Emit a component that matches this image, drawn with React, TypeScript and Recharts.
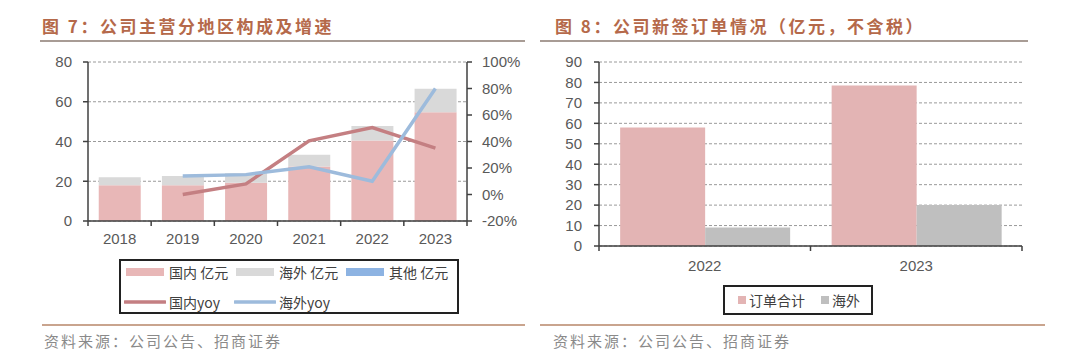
import React from 'react';
import { ComposedChart, BarChart, Bar, Line, XAxis, YAxis, CartesianGrid, Legend } from 'recharts';

// 图7 data
const years = ['2018', '2019', '2020', '2021', '2022', '2023'];
const domestic = [18, 18, 19.3, 27.4, 40.5, 54.7];
const overseas = [4, 4.7, 4.7, 5.9, 7.3, 11.9];
const others = [0, 0, 0, 0, 0, 0];
const domesticYoy = [null, 0, 8, 40.5, 50.5, 35];
const overseasYoy = [null, 14, 15, 21, 10, 80];
const leftTicks = [0, 20, 40, 60, 80];
const rightTicks = [-20, 0, 20, 40, 60, 80, 100];
const regionNames = ['国内 亿元', '海外 亿元', '其他 亿元', '国内yoy', '海外yoy'];

// 图8 data
const orderYears = ['2022', '2023'];
const orderTotal = [58, 78.5];
const orderOverseas = [9, 20];
const orderTicks = [0, 10, 20, 30, 40, 50, 60, 70, 80, 90];
const orderNames = ['订单合计', '海外'];

const CJK = '"Noto Sans CJK SC", "Liberation Sans", sans-serif';
const AXIS_FONT = '"Liberation Sans", Arial, sans-serif';
const tickStyle = { fill: '#595959', fontSize: 15, fontFamily: AXIS_FONT };
const axisStroke = { stroke: '#404040', strokeWidth: 1.5 };

const regionData = years.map((y, i) => ({
  year: y,
  domestic: domestic[i],
  overseas: overseas[i],
  others: others[i],
  domesticYoy: domesticYoy[i],
  overseasYoy: overseasYoy[i],
}));

const orderData = orderYears.map((y, i) => ({
  year: y,
  total: orderTotal[i],
  overseas: orderOverseas[i],
}));

// category label + tick marks on the band edges (Excel style)
const EdgeTick = (props: any) => {
  const { x, y, payload, index, visibleTicksCount, gap } = props;
  const off = payload?.offset ?? 0;
  const last = index === visibleTicksCount - 1;
  return (
    <g>
      <line x1={x - off} x2={x - off} y1={y} y2={y + 5} stroke="#404040" strokeWidth={1.5} />
      {last && <line x1={x + off} x2={x + off} y1={y} y2={y + 5} stroke="#404040" strokeWidth={1.5} />}
      <text x={x} y={y + gap} dy="0.71em" textAnchor="middle" {...tickStyle}>
        {payload.value}
      </text>
    </g>
  );
};

const legendText = { fontFamily: CJK, fontSize: 14, color: '#404040', whiteSpace: 'nowrap' as const };

// keep legend items in the series order, not alphabetical
const inOrder = (payload: any[] = [], names: string[]) =>
  [...payload].sort((a, b) => names.indexOf(a.value) - names.indexOf(b.value));

const RegionLegend = ({ payload }: any) => (
  <div
    style={{
      boxSizing: 'border-box',
      width: 340,
      height: 55,
      border: '2px solid #222',
      background: '#fff',
      display: 'flex',
      flexWrap: 'wrap',
      alignContent: 'center',
      paddingLeft: 3,
    }}
  >
    {inOrder(payload, regionNames).map((e: any) => (
      <div key={e.value} style={{ width: 110, height: 30, display: 'flex', alignItems: 'center' }}>
        <svg width={42} height={10} style={{ marginRight: 3, flexShrink: 0 }}>
          {e.type === 'line' ? (
            <line x1={1} x2={41} y1={5} y2={5} stroke={e.color} strokeWidth={3.5} strokeLinecap="round" />
          ) : (
            <rect x={2} y={1} width={38} height={8} fill={e.color} />
          )}
        </svg>
        <span style={legendText}>{e.value}</span>
      </div>
    ))}
  </div>
);

const OrderLegend = ({ payload }: any) => (
  <div
    style={{
      boxSizing: 'border-box',
      width: 150,
      height: 30,
      border: '2px solid #222',
      background: '#fff',
      display: 'flex',
      alignItems: 'center',
      paddingLeft: 13,
      gap: 16,
    }}
  >
    {inOrder(payload, orderNames).map((e: any) => (
      <div key={e.value} style={{ display: 'flex', alignItems: 'center' }}>
        <span style={{ width: 8, height: 8, background: e.color, display: 'inline-block', marginRight: 3 }} />
        <span style={legendText}>{e.value}</span>
      </div>
    ))}
  </div>
);

const titleStyle: React.CSSProperties = {
  position: 'absolute',
  top: 13,
  fontFamily: CJK,
  fontWeight: 700,
  fontSize: 17,
  letterSpacing: 2.5,
  color: '#b5694a',
  whiteSpace: 'nowrap',
};

const sourceStyle: React.CSSProperties = {
  position: 'absolute',
  top: 330,
  fontFamily: CJK,
  fontSize: 15,
  letterSpacing: 2,
  color: '#8a8a8a',
  whiteSpace: 'nowrap',
};

const rule = (left: number, top: number, width: number, color: string): React.CSSProperties => ({
  position: 'absolute',
  left,
  top,
  width,
  height: 2,
  background: color,
});

export default function App() {
  return (
    <div style={{ position: 'absolute', left: 0, top: 0, width: 1080, height: 364, background: '#fff', overflow: 'hidden' }}>
      <div style={{ ...titleStyle, left: 42 }}>图 7：公司主营分地区构成及增速</div>
      <div style={rule(40, 40, 485, '#a89c95')} />
      <div style={{ ...titleStyle, left: 555 }}>图 8：公司新签订单情况（亿元，不含税）</div>
      <div style={rule(540, 40, 488, '#a89c95')} />

      <div style={{ position: 'absolute', left: 0, top: 0 }}>
        <ComposedChart
          width={540}
          height={330}
          data={regionData}
          margin={{ top: 62, right: 20, left: 48, bottom: 80 }}
          barCategoryGap="17%"
        >
          <CartesianGrid yAxisId="left" vertical={false} stroke="#9a9a9a" strokeDasharray="3 2" />
          <XAxis
            dataKey="year"
            height={29}
            interval={0}
            axisLine={axisStroke}
            tickLine={false}
            tickSize={0}
            tickMargin={0}
            tick={<EdgeTick gap={12} />}
          />
          <YAxis
            yAxisId="left"
            width={40}
            domain={[0, 80]}
            ticks={leftTicks}
            interval={0}
            axisLine={axisStroke}
            tickLine={axisStroke}
            tickSize={5}
            tickMargin={11}
            tick={tickStyle}
          />
          <YAxis
            yAxisId="right"
            orientation="right"
            width={53}
            domain={[-20, 100]}
            ticks={rightTicks}
            interval={0}
            tickFormatter={(v) => `${v}%`}
            axisLine={axisStroke}
            tickLine={axisStroke}
            tickSize={5}
            tickMargin={10}
            tick={tickStyle}
          />
          <Bar yAxisId="left" dataKey="domestic" name="国内 亿元" stackId="a" fill="#e8b7b7" legendType="rect" isAnimationActive={false} />
          <Bar yAxisId="left" dataKey="overseas" name="海外 亿元" stackId="a" fill="#d9d9d9" legendType="rect" isAnimationActive={false} />
          <Bar yAxisId="left" dataKey="others" name="其他 亿元" stackId="a" fill="#8db3e2" legendType="rect" isAnimationActive={false} />
          <Line yAxisId="right" dataKey="domesticYoy" name="国内yoy" stroke="#c47f82" strokeWidth={3.5} dot={false} legendType="line" isAnimationActive={false} />
          <Line yAxisId="right" dataKey="overseasYoy" name="海外yoy" stroke="#9dbbdc" strokeWidth={3.5} dot={false} legendType="line" isAnimationActive={false} />
          <Legend
            layout="horizontal"
            verticalAlign="middle"
            align="center"
            content={RegionLegend}
            wrapperStyle={{ position: 'absolute', left: 119, top: 259, width: 340 }}
          />
        </ComposedChart>
      </div>

      <div style={{ position: 'absolute', left: 540, top: 0 }}>
        <BarChart
          width={540}
          height={330}
          data={orderData}
          margin={{ top: 62, right: 58, left: 19, bottom: 56 }}
          barCategoryGap="10%"
          barGap={0}
        >
          <CartesianGrid vertical={false} stroke="#9a9a9a" strokeDasharray="3 2" />
          <XAxis
            dataKey="year"
            height={28}
            interval={0}
            axisLine={axisStroke}
            tickLine={false}
            tickSize={0}
            tickMargin={0}
            tick={<EdgeTick gap={14} />}
          />
          <YAxis
            width={40}
            domain={[0, 90]}
            ticks={orderTicks}
            interval={0}
            axisLine={axisStroke}
            tickLine={axisStroke}
            tickSize={5}
            tickMargin={12}
            tick={tickStyle}
          />
          <Bar dataKey="total" name="订单合计" fill="#e3b4b4" legendType="square" isAnimationActive={false} />
          <Bar dataKey="overseas" name="海外" fill="#bfbfbf" legendType="square" isAnimationActive={false} />
          <Legend
            layout="horizontal"
            verticalAlign="middle"
            align="center"
            content={OrderLegend}
            wrapperStyle={{ position: 'absolute', left: 183, top: 285, width: 150 }}
          />
        </BarChart>
      </div>

      <div style={rule(42, 324, 483, '#c9a48e')} />
      <div style={rule(540, 324, 505, '#c9a48e')} />
      <div style={{ ...sourceStyle, left: 44 }}>资料来源：公司公告、招商证券</div>
      <div style={{ ...sourceStyle, left: 553 }}>资料来源：公司公告、招商证券</div>
    </div>
  );
}
